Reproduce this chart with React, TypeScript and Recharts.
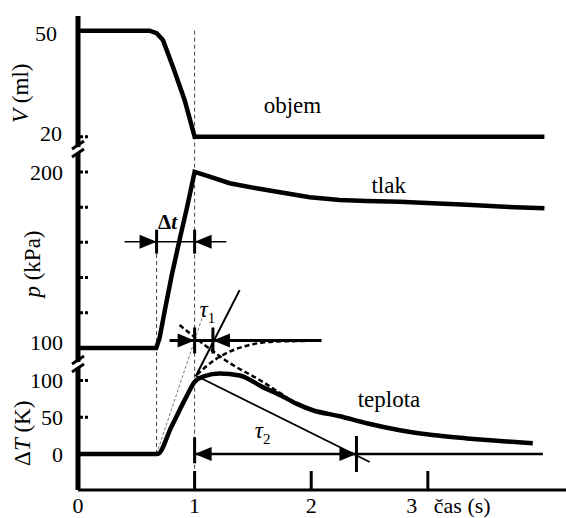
import React from 'react';
import { ComposedChart, Line, XAxis, YAxis, ReferenceLine, ReferenceDot } from 'recharts';

const font = "'Liberation Serif', 'DejaVu Serif', serif";

const volumeTime = [0, 0.614, 0.674, 0.728, 0.814, 0.914, 1.0, 4.0];
const volumeMl = [50, 50, 49.3, 47.4, 39.8, 30.4, 20, 20];

const pressureTime = [0, 0.671, 0.7, 0.742, 0.803, 0.871, 0.94, 1.0, 1.129, 1.3, 1.53, 1.758, 1.987, 2.245, 2.474, 2.76, 3.043, 3.335, 3.618, 4.0];
const pressureKPa = [100, 100, 105.7, 120.5, 141, 161.4, 181.3, 200, 197.3, 193.6, 190.7, 188.2, 185.6, 184.1, 183.5, 183, 182.2, 181.3, 180.3, 179.4];

const tempTime = [0, 0.682, 0.8, 0.931, 1.0, 1.086, 1.215, 1.386, 1.584, 1.73, 1.873, 2.013, 2.245, 2.476, 2.76, 3.04, 3.335, 3.618, 3.9];
const tempK = [0, 0, 36.7, 78.4, 98, 106, 109.5, 106.8, 91, 80.4, 68.5, 59.5, 51.4, 41.9, 32.4, 25.7, 21.2, 17.6, 14.5];

// fitted curves (dashed)
const riseFitTime = [1.02, 1.172, 1.3, 1.472, 1.67, 1.901, 2.088];
const riseFitK = [108, 127.9, 139.2, 148.3, 152.8, 153.7, 154.2];
const decayFitTime = [0.871, 1.086, 1.3, 1.558, 1.816];
const decayFitK = [175.5, 148.3, 123.8, 100.7, 74];

// ticks
const timeTicks = [0, 1, 2, 3];
const volumeTicks = [20, 50];
const pressureTicks = [100, 120, 140, 160, 180, 200];
const pressureLabelled = [100, 200];
const tempTicks = [0, 50, 100];

// annotation values
const compressionStart = 0.674;
const compressionEnd = 1.0;
const deltaTLevel = 160.4; // kPa
const tau1Level = 154.4; // K
const tau1End = 1.157;
const tau2End = 2.388;

const toRows = (ts: number[], vs: number[]) => ts.map((t, i) => ({ t, v: vs[i] }));
const volumeData = toRows(volumeTime, volumeMl);
const pressureData = toRows(pressureTime, pressureKPa);
const tempData = toRows(tempTime, tempK);
const riseFitData = toRows(riseFitTime, riseFitK);
const decayFitData = toRows(decayFitTime, decayFitK);

function makeYTick(labelled: number[], nudge: Record<number, [number, number]>, lineX: number) {
  return (props: any) => {
    const { y, payload } = props;
    const v = payload.value;
    const [dx, dy] = nudge[v] ?? [-15, 8];
    return (
      <g>
        <line x1={lineX + 2} x2={lineX + 11} y1={y} y2={y} stroke="#000" strokeWidth={3} strokeDasharray="3 2" />
        {labelled.includes(v) && (
          <text x={lineX + dx} y={y + dy} textAnchor="end" fontFamily={font} fontSize={22} fill="#000">
            {v}
          </text>
        )}
      </g>
    );
  };
}

function TimeTick(props: any) {
  const { x, y, payload } = props;
  const v = payload.value;
  return (
    <g>
      {v > 0 && <line x1={x} x2={x} y1={y - 19} y2={y} stroke="#000" strokeWidth={3} />}
      <text x={v === 3 ? x - 16 : x} y={y + 23} textAnchor="middle" fontFamily={font} fontSize={22} fill="#000">
        {v}
      </text>
      {v === 3 && (
        <text x={x + 6} y={y + 23} fontFamily={font} fontSize={22} fill="#000">
          čas (s)
        </text>
      )}
    </g>
  );
}

const arrow = (dir: 'left' | 'right') => (p: any) => {
  const { cx, cy } = p;
  const s = dir === 'right' ? -1 : 1;
  return <path d={`M${cx},${cy} L${cx + s * 17},${cy - 7} L${cx + s * 17},${cy + 7} Z`} fill="#000" />;
};

const stop = (h: number) => (p: any) => (
  <line x1={p.cx} x2={p.cx} y1={p.cy - h} y2={p.cy + h} stroke="#000" strokeWidth={3} />
);

const axisBreak = (p: any) => {
  const { cx, cy } = p;
  return (
    <g>
      <rect x={cx - 4} y={cy - 3} width={8} height={6} fill="#fff" />
      <line x1={cx - 6} y1={cy - 1} x2={cx + 6} y2={cy - 9} stroke="#000" strokeWidth={3} />
      <line x1={cx - 6} y1={cy + 7} x2={cx + 6} y2={cy - 1} stroke="#000" strokeWidth={3} />
    </g>
  );
};

const word = (text: string) => (p: any) => (
  <text x={p.cx} y={p.cy} fontFamily={font} fontSize={23} fill="#000">
    {text}
  </text>
);

const axisTitle = (prefix: string, symbol: string, unit: string) => (p: any) => (
  <text
    x={p.cx}
    y={p.cy}
    transform={`rotate(-90 ${p.cx} ${p.cy})`}
    textAnchor="middle"
    fontFamily={font}
    fontSize={23}
    fill="#000"
  >
    {prefix}
    <tspan fontStyle="italic">{symbol}</tspan> {unit}
  </text>
);

const tauLabel = (sub: string) => (p: any) => (
  <text x={p.cx} y={p.cy} fontFamily={font} fontSize={23} fill="#000">
    <tspan fontStyle="italic">τ</tspan>
    <tspan fontSize={15} dy={6}>
      {sub}
    </tspan>
  </text>
);

const deltaTLabel = (p: any) => (
  <text x={p.cx} y={p.cy} textAnchor="middle" fontFamily={font} fontSize={21} fontWeight="bold" fill="#000">
    Δ<tspan fontStyle="italic">t</tspan>
  </text>
);

const dashGrey = { stroke: '#444', strokeWidth: 1, strokeDasharray: '4 3' };
const AXIS_X = 78;

export default function App() {
  return (
    <div style={{ position: 'absolute', left: 0, top: 0, width: 566, height: 518, background: '#fff', fontFamily: font }}>
      <ComposedChart width={566} height={518} margin={{ top: 16, right: 0, bottom: 0, left: 75 }}>
        <XAxis
          type="number"
          dataKey="t"
          domain={[0, 4.185]}
          ticks={timeTicks}
          interval={0}
          height={28}
          tickSize={0}
          tickMargin={0}
          tickLine={false}
          tick={<TimeTick />}
          axisLine={{ stroke: '#000', strokeWidth: 3 }}
          allowDataOverflow
        />
        <YAxis
          yAxisId="V"
          width={1}
          domain={[-80, 54.16]}
          ticks={volumeTicks}
          interval={0}
          tickSize={0}
          tickMargin={0}
          tickLine={false}
          tick={makeYTick(volumeTicks, { 50: [-21, 10], 20: [-16, 4] }, AXIS_X)}
          axisLine={false}
          allowDataOverflow
        />
        <YAxis
          yAxisId="p"
          width={1}
          domain={[19.3, 288.6]}
          ticks={pressureTicks}
          interval={0}
          tickSize={0}
          tickMargin={0}
          tickLine={false}
          tick={makeYTick(pressureLabelled, { 100: [-15, 2] }, AXIS_X)}
          axisLine={false}
          allowDataOverflow
        />
        <YAxis
          yAxisId="T"
          width={1}
          domain={[-49, 595.9]}
          ticks={tempTicks}
          interval={0}
          tickSize={0}
          tickMargin={0}
          tickLine={false}
          tick={makeYTick(tempTicks, {}, AXIS_X)}
          axisLine={false}
          allowDataOverflow
        />

        {/* left axis line spanning the three panels */}
        <ReferenceLine yAxisId="V" segment={[{ x: 0, y: 54.16 }, { x: 0, y: -80 }]} stroke="#000" strokeWidth={5} ifOverflow="visible" />

        {/* guide lines */}
        <ReferenceLine yAxisId="V" segment={[{ x: compressionEnd, y: 50 }, { x: compressionEnd, y: -80 }]} {...dashGrey} ifOverflow="visible" />
        <ReferenceLine yAxisId="T" segment={[{ x: compressionStart, y: 0 }, { x: compressionStart, y: 287 }]} {...dashGrey} ifOverflow="visible" />
        <ReferenceLine yAxisId="T" segment={[{ x: 0.674, y: 0 }, { x: 1.07, y: 187.8 }]} stroke="#777" strokeWidth={1} strokeDasharray="3 2" ifOverflow="visible" />

        {/* series */}
        <Line yAxisId="V" data={volumeData} dataKey="v" type="linear" stroke="#000" strokeWidth={4.5} dot={false} isAnimationActive={false} />
        <Line yAxisId="p" data={pressureData} dataKey="v" type="linear" stroke="#000" strokeWidth={4.5} dot={false} isAnimationActive={false} />
        <Line yAxisId="T" data={tempData} dataKey="v" type="monotone" stroke="#000" strokeWidth={4.5} dot={false} isAnimationActive={false} />
        <Line yAxisId="T" data={riseFitData} dataKey="v" type="monotone" stroke="#000" strokeWidth={2.5} strokeDasharray="5 3" dot={false} isAnimationActive={false} />
        <Line yAxisId="T" data={decayFitData} dataKey="v" type="monotone" stroke="#000" strokeWidth={2.5} strokeDasharray="5 3" dot={false} isAnimationActive={false} />

        {/* tangents */}
        <ReferenceLine yAxisId="T" segment={[{ x: 1.015, y: 107.5 }, { x: 1.386, y: 223 }]} stroke="#000" strokeWidth={2} ifOverflow="visible" />
        <ReferenceLine yAxisId="T" segment={[{ x: 1.0, y: 107.5 }, { x: 2.502, y: -10.9 }]} stroke="#000" strokeWidth={1.8} ifOverflow="visible" />

        {/* Δt */}
        <ReferenceLine yAxisId="p" segment={[{ x: 0.4, y: deltaTLevel }, { x: 1.272, y: deltaTLevel }]} stroke="#000" strokeWidth={1.5} ifOverflow="visible" />
        <ReferenceDot yAxisId="p" x={compressionStart} y={deltaTLevel} shape={arrow('right')} ifOverflow="visible" />
        <ReferenceDot yAxisId="p" x={compressionEnd} y={deltaTLevel} shape={arrow('left')} ifOverflow="visible" />
        <ReferenceDot yAxisId="p" x={compressionStart} y={deltaTLevel} shape={stop(12)} ifOverflow="visible" />
        <ReferenceDot yAxisId="p" x={compressionEnd} y={deltaTLevel} shape={stop(12)} ifOverflow="visible" />
        <ReferenceDot yAxisId="p" x={0.768} y={167.6} shape={deltaTLabel} ifOverflow="visible" />

        {/* τ1 */}
        <ReferenceLine yAxisId="T" segment={[{ x: 0.785, y: tau1Level }, { x: 2.088, y: tau1Level }]} stroke="#000" strokeWidth={3} ifOverflow="visible" />
        <ReferenceDot yAxisId="T" x={compressionEnd} y={tau1Level} shape={arrow('right')} ifOverflow="visible" />
        <ReferenceDot yAxisId="T" x={tau1End} y={tau1Level} shape={arrow('left')} ifOverflow="visible" />
        <ReferenceDot yAxisId="T" x={compressionEnd} y={tau1Level} shape={stop(13)} ifOverflow="visible" />
        <ReferenceDot yAxisId="T" x={tau1End} y={tau1Level} shape={stop(13)} ifOverflow="visible" />
        <ReferenceDot yAxisId="T" x={1.043} y={186.4} shape={tauLabel('1')} ifOverflow="visible" />

        {/* τ2 */}
        <ReferenceLine yAxisId="T" segment={[{ x: compressionEnd, y: 0 }, { x: 3.987, y: 0 }]} stroke="#000" strokeWidth={2.5} ifOverflow="visible" />
        <ReferenceDot yAxisId="T" x={compressionEnd} y={0} shape={arrow('left')} ifOverflow="visible" />
        <ReferenceDot yAxisId="T" x={tau2End} y={0} shape={arrow('right')} ifOverflow="visible" />
        <ReferenceDot yAxisId="T" x={compressionEnd} y={5} shape={stop(13)} ifOverflow="visible" />
        <ReferenceDot yAxisId="T" x={tau2End} y={0} shape={stop(18)} ifOverflow="visible" />
        <ReferenceDot yAxisId="T" x={1.515} y={21.8} shape={tauLabel('2')} ifOverflow="visible" />

        {/* series names */}
        <ReferenceDot yAxisId="V" x={1.592} y={26.6} shape={word('objem')} ifOverflow="visible" />
        <ReferenceDot yAxisId="p" x={2.517} y={187.9} shape={word('tlak')} ifOverflow="visible" />
        <ReferenceDot yAxisId="T" x={2.399} y={64.4} shape={word('teplota')} ifOverflow="visible" />

        {/* axis breaks and titles */}
        <ReferenceDot yAxisId="V" x={0} y={16.2} shape={axisBreak} ifOverflow="visible" />
        <ReferenceDot yAxisId="T" x={0} y={121} shape={axisBreak} ifOverflow="visible" />
        <ReferenceDot yAxisId="V" x={-0.425} y={32.3} shape={axisTitle('', 'V', '(ml)')} ifOverflow="visible" />
        <ReferenceDot yAxisId="p" x={-0.33} y={147.7} shape={axisTitle('', 'p', '(kPa)')} ifOverflow="visible" />
        <ReferenceDot yAxisId="T" x={-0.408} y={28.2} shape={axisTitle('Δ', 'T', '(K)')} ifOverflow="visible" />
      </ComposedChart>
    </div>
  );
}
